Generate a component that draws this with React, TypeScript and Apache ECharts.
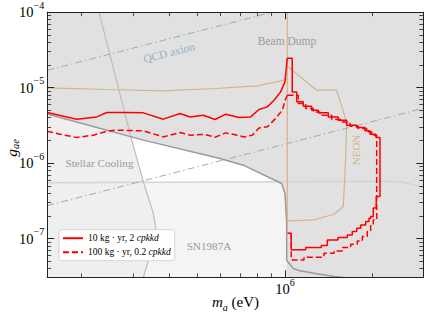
import React, { useEffect, useRef } from 'react';
import * as echarts from 'echarts';

const FONT = '"Liberation Serif", "Times New Roman", serif';

// axis ranges (data space)
const X_RANGE = [1.523e5, 2.988e6];
const Y_RANGE = [3.08e-8, 1e-4];

// ticks
const xMajorTicks = [1e6];
const xMinorTicks = [2e5, 3e5, 4e5, 5e5, 6e5, 7e5, 8e5, 9e5, 2e6];
const yMajorTicks = [1e-7, 1e-6, 1e-5, 1e-4];
const yMinorTicks = [
  4e-8, 5e-8, 6e-8, 7e-8, 8e-8, 9e-8,
  2e-7, 3e-7, 4e-7, 5e-7, 6e-7, 7e-7, 8e-7, 9e-7,
  2e-6, 3e-6, 4e-6, 5e-6, 6e-6, 7e-6, 8e-6, 9e-6,
  2e-5, 3e-5, 4e-5, 5e-5, 6e-5, 7e-5, 8e-5, 9e-5,
];

// 10 kg·yr, 2 cpkkd (solid)
const solidCurve = [
  [1.523e5, 4.69e-6], [1.924e5, 3.83e-6], [2.254e5, 4.1e-6], [2.44e5, 4.69e-6], [2.858e5, 4.69e-6],
  [3.26e5, 4.64e-6], [3.82e5, 3.83e-6], [4.36e5, 4.55e-6], [4.72e5, 4.1e-6], [5.24e5, 4.32e-6],
  [5.75e5, 3.79e-6], [6.26e5, 4.46e-6], [6.95e5, 4.03e-6], [7.62e5, 4.1e-6], [8.14e5, 5.14e-6],
  [8.69e5, 5.57e-6], [9.17e5, 6.83e-6], [9.66e5, 8.8e-6], [1.0e6, 1.193e-5], [1.018e6, 2.46e-5],
];
const solidSteps = [
  [1.018e6, 2.46e-5], [1.059e6, 8.8e-6], [1.097e6, 6.49e-6], [1.156e6, 5.69e-6], [1.235e6, 5.04e-6],
  [1.302e6, 4.64e-6], [1.408e6, 4.1e-6], [1.525e6, 3.71e-6], [1.629e6, 3.19e-6], [1.764e6, 2.97e-6],
  [1.883e6, 2.68e-6], [1.96e6, 2.42e-6], [2.054e6, 2.19e-6], [2.121e6, 3.62e-7], [2.059e6, 2.54e-7],
  [2.011e6, 1.968e-7], [1.97e6, 1.87e-7], [1.944e6, 1.69e-7], [1.894e6, 1.523e-7], [1.82e6, 1.377e-7],
  [1.764e6, 1.246e-7], [1.703e6, 1.122e-7], [1.637e6, 1.037e-7], [1.521e6, 9.64e-8], [1.398e6, 8.13e-8],
  [1.333e6, 7.65e-8], [1.178e6, 7.11e-8], [1.051e6, 1.182e-7], [1.024e6, 1.182e-7],
];

// 100 kg·yr, 0.2 cpkkd (dashed)
const dashedCurve = [
  [1.523e5, 2.65e-6], [1.686e5, 2.42e-6], [1.924e5, 2.19e-6], [2.194e5, 2.35e-6], [2.44e5, 2.65e-6],
  [2.64e5, 2.74e-6], [3.26e5, 2.68e-6], [3.82e5, 2.23e-6], [4.36e5, 2.55e-6], [4.72e5, 2.35e-6],
  [5.31e5, 2.4e-6], [5.75e5, 2.21e-6], [6.26e5, 2.52e-6], [6.68e5, 2.4e-6], [7.23e5, 2.23e-6],
  [7.72e5, 2.35e-6], [8.14e5, 2.93e-6], [8.69e5, 3.03e-6], [9.29e5, 3.91e-6], [9.79e5, 5.04e-6],
  [1.006e6, 7.19e-6], [1.02e6, 7.96e-6],
];
const dashedSteps = [
  [1.02e6, 7.96e-6], [1.111e6, 6.18e-6], [1.178e6, 5.3e-6], [1.251e6, 4.78e-6], [1.319e6, 4.32e-6],
  [1.447e6, 3.79e-6], [1.566e6, 3.52e-6], [1.673e6, 3.09e-6], [1.786e6, 2.88e-6], [1.909e6, 2.6e-6],
  [1.986e6, 2.35e-6], [2.066e6, 1.774e-7], [2.011e6, 1.523e-7], [1.97e6, 1.246e-7], [1.918e6, 1.069e-7],
  [1.844e6, 9.35e-8], [1.772e6, 8.46e-8], [1.682e6, 7.65e-8], [1.573e6, 6.89e-8], [1.474e6, 6.43e-8],
  [1.361e6, 5.69e-8], [1.162e6, 5.24e-8], [1.051e6, 1.182e-7], [1.02e6, 1.182e-7],
];
const dashedEdge = [[1.02e6, 7.26e-6], [1.02e6, 1.182e-7]];

// NEON (tan)
const neonTop = [
  [1.523e5, 9.94e-6], [2.44e5, 9.47e-6], [3.82e5, 9.07e-6], [5.75e5, 9.76e-6], [8.03e5, 1.056e-5], [1.018e6, 1.284e-5],
];
const neonContour = [
  [1.018e6, 1e-4], [1.018e6, 1.72e-7], [1.258e6, 1.774e-7], [1.474e6, 2.11e-7], [1.586e6, 2.67e-7],
  [1.616e6, 1.095e-6], [1.629e6, 3.52e-6], [1.505e6, 9.27e-6], [1.285e6, 9.27e-6], [1.026e6, 1.886e-5],
];

// QCD axion band edges (dash-dot)
const qcdUpper = [[1.523e5, 1.7e-5], [9.04e5, 1e-4]];
const qcdLower = [[1.523e5, 2.74e-7], [2.988e6, 5.33e-6]];

// constraint boundaries
const stellarLine = [
  [2.295e5, 1e-4], [2.973e5, 2.02e-6], [3.26e5, 5.65e-7], [3.527e5, 2.16e-7], [3.63e5, 1.11e-7],
  [3.39e5, 5.08e-8], [3.26e5, 3.08e-8],
];
const snLine = [[1.523e5, 5.52e-7], [2.296e6, 5.78e-7], [2.55e6, 5.6e-7], [2.988e6, 4.81e-7]];
const beamLine = [
  [1.523e5, 4.48e-6], [3.26e5, 2.02e-6], [5.98e5, 1.154e-6], [7.19e5, 9.41e-7], [9.74e5, 5.38e-7],
  [1.0e6, 3.97e-7], [1.0135e6, 1.59e-7], [1.0135e6, 5.19e-8], [1.068e6, 4.03e-8], [1.126e6, 3.75e-8],
  [1.258e6, 3.49e-8], [1.474e6, 3.16e-8], [1.81e6, 2.91e-8],
];

// shaded regions
const beamRegion = [
  [1.523e5, 1e-4], [2.988e6, 1e-4], [2.988e6, 3.08e-8], [1.0135e6, 3.08e-8], [1.0135e6, 1.59e-7],
  [1.0e6, 3.97e-7], [9.74e5, 5.38e-7], [7.19e5, 9.41e-7], [5.98e5, 1.154e-6], [3.26e5, 2.02e-6],
  [1.523e5, 4.48e-6],
];
const stellarRegion = [
  [1.523e5, 1e-4], [2.295e5, 1e-4], [2.973e5, 2.02e-6], [3.26e5, 5.65e-7], [3.527e5, 2.16e-7],
  [3.63e5, 1.11e-7], [3.39e5, 5.08e-8], [3.26e5, 3.08e-8], [1.523e5, 3.08e-8],
];
const snRegion = [[1.523e5, 5.52e-7], [1.02e6, 5.65e-7], [1.02e6, 3.08e-8], [1.523e5, 3.08e-8]];

const SOLID_NAME = 'solid';
const DASHED_NAME = 'dashed';

const lg = (pts: number[][]) => pts.map(([x, y]) => [Math.log10(x), Math.log10(y)]);
const lg1 = (v: number[]) => v.map((t) => Math.log10(t));

function regionSeries(pts: number[][], color: string, z: number) {
  const lp = lg(pts);
  return {
    type: 'custom',
    xAxisIndex: 0,
    yAxisIndex: 0,
    silent: true,
    clip: true,
    z,
    data: [lp[0]],
    renderItem: (_p: any, api: any) => ({
      type: 'polygon',
      shape: { points: lp.map((p) => api.coord(p)) },
      style: { fill: color, stroke: null },
    }),
  };
}

function lineSeries(name: string, pts: number[][], color: string, width: number, type: any, z: number, step?: string) {
  return {
    type: 'line',
    name,
    data: lg(pts),
    xAxisIndex: 0,
    yAxisIndex: 0,
    showSymbol: false,
    symbol: 'none',
    step: step || false,
    silent: true,
    z,
    clip: true,
    emphasis: { disabled: true },
    lineStyle: { color, width, type },
    itemStyle: { color },
  };
}

export default function App() {
  const ref = useRef<HTMLDivElement>(null);
  useEffect(() => {
    document.body.style.margin = '0';
    const chart = echarts.init(ref.current!, undefined, { renderer: 'svg' });
    const lx = lg1(X_RANGE);
    const ly = lg1(Y_RANGE);
    const axisColor = '#222';
    const labRich = {
      b: { fontSize: 14.5, fontFamily: FONT, color: '#000', lineHeight: 24 },
      s: { fontSize: 10, fontFamily: FONT, color: '#000', lineHeight: 12, verticalAlign: 'top' },
    };
    const xBase = {
      type: 'value', min: lx[0], max: lx[1], gridIndex: 0, z: 20, splitLine: { show: false },
    };
    const yBase = {
      type: 'value', min: ly[0], max: ly[1], gridIndex: 0, z: 20, splitLine: { show: false },
    };
    const majorTick = (vals: number[]) => ({ show: true, inside: true, length: 7, customValues: lg1(vals), lineStyle: { color: axisColor, width: 1 } });
    const minorTick = (vals: number[]) => ({ show: true, inside: true, length: 4, customValues: lg1(vals), lineStyle: { color: axisColor, width: 0.8 } });
    const line = { show: true, onZero: false, lineStyle: { color: axisColor, width: 1 } };
    const noLine = { show: false, onZero: false };

    const txt = (text: string, x: number, y: number, fill: string, size: number, rotation = 0) => ({
      type: 'text', x, y, rotation, z: 25, silent: true,
      style: { text, fill, font: `${size}px ${FONT}`, textAlign: 'center', textVerticalAlign: 'middle', align: 'center', verticalAlign: 'middle' },
    });

    const option: any = {
      animation: false,
      grid: { left: 47.2, top: 12.2, width: 376.1, height: 265.1, containLabel: false, outerBoundsMode: 'none' },
      xAxis: [
        { ...xBase, position: 'bottom', axisLine: line, axisTick: majorTick(xMajorTicks),
          axisLabel: { show: true, customValues: lg1(xMajorTicks), margin: 0, formatter: (v: number) => `{b|10}{s|${Math.round(v)}}`, rich: labRich } },
        { ...xBase, position: 'bottom', axisLine: noLine, axisTick: minorTick(xMinorTicks), axisLabel: { show: false } },
        { ...xBase, position: 'top', axisLine: line, axisTick: majorTick(xMajorTicks), axisLabel: { show: false } },
        { ...xBase, position: 'top', axisLine: noLine, axisTick: minorTick(xMinorTicks), axisLabel: { show: false } },
      ],
      yAxis: [
        { ...yBase, position: 'left', axisLine: line, axisTick: majorTick(yMajorTicks),
          axisLabel: { show: true, customValues: lg1(yMajorTicks), margin: 3, formatter: (v: number) => `{b|10}{s|\u2212${-Math.round(v)}}`, rich: labRich } },
        { ...yBase, position: 'left', axisLine: noLine, axisTick: minorTick(yMinorTicks), axisLabel: { show: false } },
        { ...yBase, position: 'right', axisLine: line, axisTick: majorTick(yMajorTicks), axisLabel: { show: false } },
        { ...yBase, position: 'right', axisLine: noLine, axisTick: minorTick(yMinorTicks), axisLabel: { show: false } },
      ],
      legend: {
        left: 59, top: 229.7, orient: 'vertical', itemWidth: 20, itemHeight: 10, itemGap: 4,
        padding: [3.5, 4, 3.5, 3], backgroundColor: '#ffffff', borderColor: '#cccccc', borderWidth: 0.8, borderRadius: 3,
        selectedMode: false, z: 30,
        data: [SOLID_NAME, DASHED_NAME],
        itemStyle: { opacity: 0 },
        formatter: (name: string) => name === SOLID_NAME ? '{r|10 kg \u00b7 yr, 2 }{i|cpkkd}' : '{r|100 kg \u00b7 yr, 0.2 }{i|cpkkd}',
        textStyle: {
          fontFamily: FONT, fontSize: 9.5, color: '#000', lineHeight: 10,
          rich: {
            r: { fontFamily: FONT, fontSize: 9.5, color: '#000', lineHeight: 10 },
            i: { fontFamily: FONT, fontSize: 9.5, color: '#000', fontStyle: 'italic', lineHeight: 10 },
          },
        },
      },
      graphic: [
        txt('Beam Dump', 287, 41, '#9a9a9a', 11.5),
        txt('Stellar Cooling', 99.5, 162.5, '#9c9c9c', 11.2),
        txt('SN1987A', 209, 246, '#9a9a9a', 11.2),
        txt('QCD axion', 169, 52.5, '#8fb0bb', 11.5, 0.253),
        txt('NEON', 356, 150, '#d2b48c', 11, Math.PI / 2),
        {
          type: 'text', x: 11, y: 148, rotation: Math.PI / 2, z: 25, silent: true,
          style: {
            text: '{g|g}{s|ae}', textAlign: 'center', textVerticalAlign: 'middle', align: 'center', verticalAlign: 'middle',
            rich: {
              g: { fontFamily: FONT, fontSize: 15.5, fontStyle: 'italic', fill: '#000', color: '#000', lineHeight: 20 },
              s: { fontFamily: FONT, fontSize: 10.5, fontStyle: 'italic', fill: '#000', color: '#000', lineHeight: 10, verticalAlign: 'bottom' },
            },
          },
        },
        {
          type: 'text', x: 235.5, y: 302, z: 25, silent: true,
          style: {
            text: '{m|m}{s|a}{r| (eV)}', textAlign: 'center', textVerticalAlign: 'middle', align: 'center', verticalAlign: 'middle',
            rich: {
              m: { fontFamily: FONT, fontSize: 15, fontStyle: 'italic', fill: '#000', color: '#000', lineHeight: 20 },
              s: { fontFamily: FONT, fontSize: 10, fontStyle: 'italic', fill: '#000', color: '#000', lineHeight: 10, verticalAlign: 'bottom' },
              r: { fontFamily: FONT, fontSize: 15, fill: '#000', color: '#000', lineHeight: 20 },
            },
          },
        },
      ],
      series: [
        regionSeries(snRegion, '#f4f4f4', 1),
        regionSeries(stellarRegion, '#efefef', 2),
        regionSeries(beamRegion, '#e1e1e1', 3),
        lineSeries('sn', snLine, '#d4d4d4', 1.5, 'solid', 4),
        lineSeries('stellar', stellarLine, '#bcbcbc', 1.2, 'solid', 4),
        lineSeries('beam', beamLine, '#9a9a9a', 1.5, 'solid', 5),
        lineSeries('qcd1', qcdUpper, '#8fb0bb', 1, [7, 3, 1.5, 3], 6),
        lineSeries('qcd2', qcdLower, '#8fb0bb', 1, [7, 3, 1.5, 3], 6),
        lineSeries('neon1', neonTop, '#d2b48c', 1.2, 'solid', 7),
        lineSeries('neon2', neonContour, '#d2b48c', 1.2, 'solid', 7),
        lineSeries('edge', dashedEdge, '#f4a0a0', 1, [4, 2.5], 8),
        lineSeries(DASHED_NAME, dashedCurve, '#ff0000', 1.5, [6, 3], 9),
        lineSeries(DASHED_NAME, dashedSteps, '#ff0000', 1.5, [6, 3], 9, 'end'),
        lineSeries(SOLID_NAME, solidCurve, '#ff0000', 1.5, 'solid', 10),
        lineSeries(SOLID_NAME, solidSteps, '#ff0000', 1.5, 'solid', 10, 'end'),
      ],
    };
    chart.setOption(option);
    return () => chart.dispose();
  }, []);
  return <div ref={ref} style={{ width: 429, height: 318 }} />;
}
